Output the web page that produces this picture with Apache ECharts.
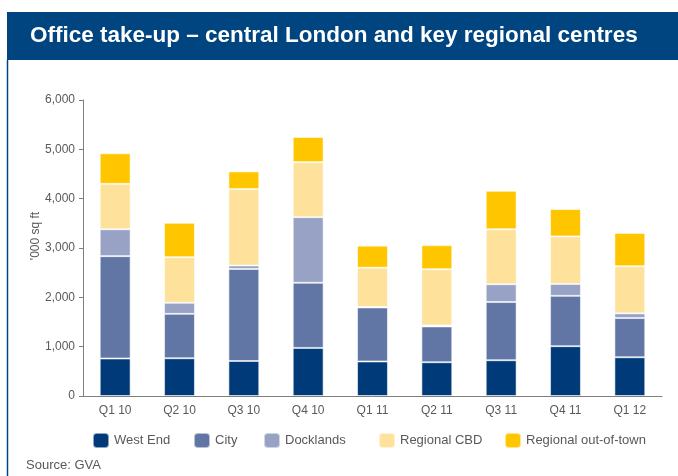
<!DOCTYPE html>
<html style='height: 100%'>
<head>
    <meta charset='utf-8'>
</head>
<body style='height: 100%; margin: 0; background: #fff'>
    <div id='container' style='width: 678px; height: 476px'></div>
    <script type='text/javascript' src='https://cdn.jsdelivr.net/npm/echarts@6/dist/echarts.min.js'></script>
    <script type="text/javascript">

var quarters = ['Q1 10', 'Q2 10', 'Q3 10', 'Q4 10', 'Q1 11', 'Q2 11', 'Q3 11', 'Q4 11', 'Q1 12'];
var westEnd = [760, 765, 710, 975, 700, 685, 725, 1010, 785];
var city = [2075, 900, 1865, 1320, 1095, 725, 1180, 1020, 795];
var docklands = [545, 225, 70, 1330, 10, 20, 360, 240, 95];
var regionalCBD = [920, 925, 1550, 1115, 795, 1140, 1115, 965, 955];
var regionalOOT = [620, 695, 357, 510, 447, 487, 778, 555, 675];

var names = ['West End', 'City', 'Docklands', 'Regional CBD', 'Regional out-of-town'];
var colors = ['#003a78', '#6276a6', '#97a2c5', '#fee19a', '#ffc600'];
var values = [westEnd, city, docklands, regionalCBD, regionalOOT];
var legendLeft = [87, 188, 258, 373, 499];

var font = '"Liberation Sans", Arial, sans-serif';
var grey = '#595959';

var dom = document.getElementById("container");
var myChart = echarts.init(dom);

var series = [];
var legends = [];
for (var i = 0; i < names.length; i++) {
    series.push({
        name: names[i],
        type: 'bar',
        stack: 'total',
        barWidth: '48%',
        data: values[i],
        itemStyle: {color: colors[i], borderColor: 'rgba(255,255,255,0.55)', borderWidth: 1}
    });
    legends.push({
        data: [names[i]],
        left: legendLeft[i],
        top: 427,
        itemWidth: 16,
        itemHeight: 15,
        itemGap: 8,
        textStyle: {color: grey, fontSize: 13, fontFamily: font}
    });
}

var option = {
    animation: false,
    legend: legends,
    grid: {left: 83, right: 16, top: 100, bottom: 80},
    xAxis: {
        type: 'category',
        data: quarters,
        axisLine: {lineStyle: {color: '#7f7f7f'}},
        axisTick: {length: 4, lineStyle: {color: '#7f7f7f'}},
        axisLabel: {color: grey, fontSize: 12, fontFamily: font, margin: 9}
    },
    yAxis: {
        type: 'value',
        min: 0,
        max: 6000,
        interval: 1000,
        splitLine: {show: false},
        axisLine: {show: true, lineStyle: {color: '#7f7f7f'}},
        axisTick: {show: true, length: 4, lineStyle: {color: '#7f7f7f'}},
        axisLabel: {
            color: grey, fontSize: 12, fontFamily: font, margin: 8,
            formatter: function(v) { return v.toLocaleString('en-GB'); }
        }
    },
    graphic: [
        {type: 'rect', shape: {x: 7, y: 12, width: 671, height: 48}, style: {fill: '#004480'}},
        {type: 'line', shape: {x1: 7.5, y1: 60, x2: 7.5, y2: 476}, style: {stroke: '#004480', lineWidth: 1.5}},
        {type: 'text', x: 30, y: 36, style: {
            text: 'Office take-up \u2013 central London and key regional centres',
            fill: '#fff', font: 'bold 22.5px ' + font, textVerticalAlign: 'middle'}},
        {type: 'text', x: 36, y: 236, rotation: Math.PI / 2, style: {
            text: "'000 sq ft", fill: grey, font: '12px ' + font,
            textAlign: 'center', textVerticalAlign: 'middle'}},
        {type: 'text', x: 26, y: 465, style: {
            text: 'Source: GVA', fill: grey, font: '13px ' + font, textVerticalAlign: 'middle'}}
    ],
    series: series
};

myChart.setOption(option, true);
       </script>
   </body>
</html>
